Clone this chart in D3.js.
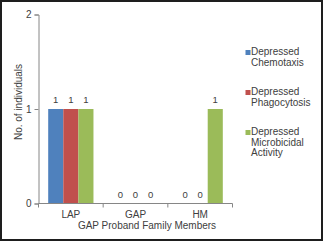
<!DOCTYPE html>
<html><head><meta charset="utf-8">
<script src="https://cdn.jsdelivr.net/npm/d3@7"></script>
<style>
html,body{margin:0;padding:0;background:#fff;}
svg{display:block;}
text{font-family:"Liberation Sans",Arial,sans-serif;fill:#404040;}
</style></head><body>
<script>
const categories = ["LAP", "GAP", "HM"];
const seriesNames = ["Depressed Chemotaxis", "Depressed Phagocytosis", "Depressed Microbicidal Activity"];
const legendLines = [["Depressed","Chemotaxis"],["Depressed","Phagocytosis"],["Depressed","Microbicidal","Activity"]];
const chemotaxis = [1, 0, 0];
const phagocytosis = [1, 0, 0];
const microbicidal = [1, 0, 1];
const yTicks = [0, 1, 2];
const colors = ["#4F81BD", "#C0504D", "#9BBB59"];
const series = [chemotaxis, phagocytosis, microbicidal];

const W = 324, H = 242;
const svg = d3.select("body").append("svg").attr("width", W).attr("height", H);

svg.append("rect").attr("x",1).attr("y",1).attr("width",W-3).attr("height",H-3)
  .attr("fill","#fff").attr("stroke","#1e1e1e").attr("stroke-width",2);

const x0 = d3.scaleBand().domain(categories).range([38.5, 232.5]).paddingInner(0.3).paddingOuter(0.15);
const x1 = d3.scaleBand().domain(d3.range(series.length)).range([0, x0.bandwidth()]);
const y = d3.scaleLinear().domain([0, 2]).range([203.5, 14.5]);

// bars
categories.forEach((c, ci) => {
  series.forEach((s, si) => {
    const v = s[ci];
    svg.append("rect")
      .attr("x", x0(c) + x1(si))
      .attr("y", y(v))
      .attr("width", x1.bandwidth())
      .attr("height", y(0) - y(v))
      .attr("fill", colors[si]);
    svg.append("text")
      .attr("x", x0(c) + x1(si) + x1.bandwidth()/2)
      .attr("y", y(v) - 6)
      .attr("text-anchor","middle")
      .attr("font-size", 9.5)
      .text(v);
  });
});

// y axis
const yAxis = svg.append("g").attr("transform","translate(38.5,0)")
  .call(d3.axisLeft(y).tickValues(yTicks).tickSize(4).tickPadding(3).tickFormat(d3.format("d")));
yAxis.selectAll("path,line").attr("stroke","#868686");
yAxis.selectAll("text").attr("font-size",10).attr("fill","#404040").style("font-family","Liberation Sans, Arial, sans-serif");

// x axis
const xg = svg.append("g").attr("transform","translate(0,203.5)");
xg.append("line").attr("x1",38.5).attr("x2",232.5).attr("stroke","#868686");
const bounds = [38.5].concat(categories.map(c => x0(c) + x0.bandwidth() + x0.step()*0.15));
bounds.forEach(b => xg.append("line").attr("x1",b).attr("x2",b).attr("y1",0).attr("y2",4).attr("stroke","#868686"));
categories.forEach(c => {
  xg.append("text").attr("x", x0(c) + x0.bandwidth()/2).attr("y", 14.5)
    .attr("text-anchor","middle").attr("font-size",10).text(c);
});

svg.append("text").attr("x",147).attr("y",228.5).attr("text-anchor","middle")
  .attr("font-size",10).text("GAP Proband Family Members");

svg.append("text").attr("transform","translate(21.5,102) rotate(-90)")
  .attr("text-anchor","middle").attr("font-size",10).text("No. of individuals");

// legend
seriesNames.forEach((n, i) => {
  const by = 55 + i*40;
  svg.append("rect").attr("x",245.5).attr("y",by-5).attr("width",5).attr("height",5).attr("fill",colors[i]);
  const t = svg.append("text").attr("x",251).attr("y",by).attr("font-size",10);
  legendLines[i].forEach((l, li) => {
    t.append("tspan").attr("x",251).attr("dy", li===0?0:10.5).text(l);
  });
});
</script>
</body></html>
